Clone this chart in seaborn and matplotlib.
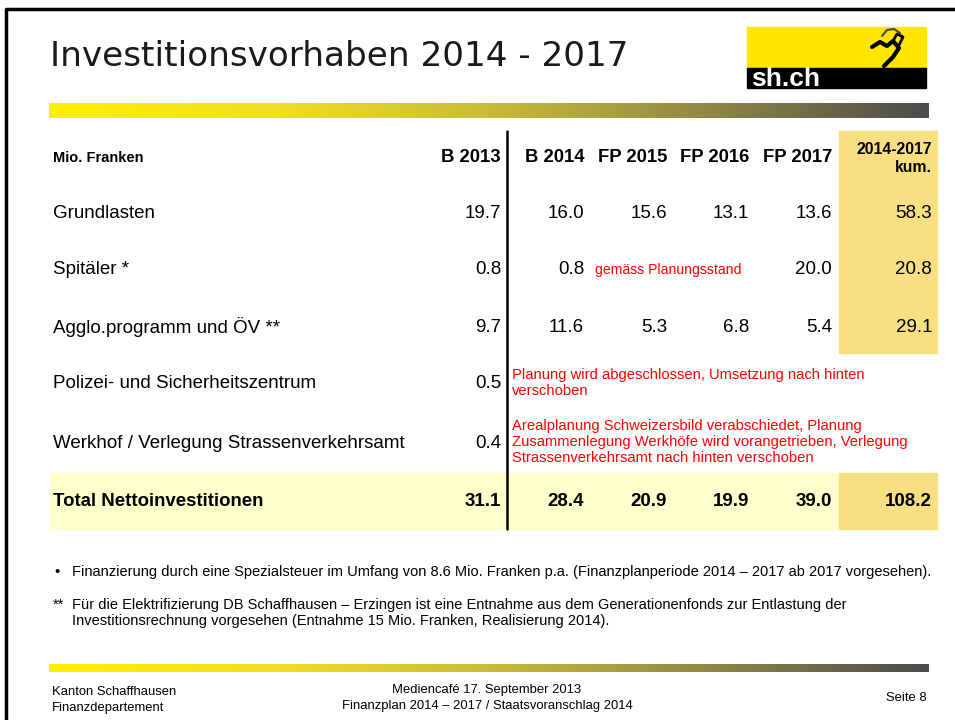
import numpy as np
import matplotlib.pyplot as plt
import matplotlib.patches as mpatches
import seaborn as sns

# table data (Mio. Franken)
title = "Investitionsvorhaben 2014 - 2017"
col_labels = ["B 2013", "B 2014", "FP 2015", "FP 2016", "FP 2017", "2014-2017\nkum."]
row_labels = ["Grundlasten", "Spitäler *", "Agglo.programm und ÖV **",
              "Polizei- und Sicherheitszentrum", "Werkhof / Verlegung Strassenverkehrsamt"]
b2013 = [19.7, 0.8, 9.7, 0.5, 0.4]
b2014 = [16.0, 0.8, 11.6, None, None]
fp2015 = [15.6, None, 5.3, None, None]
fp2016 = [13.1, None, 6.8, None, None]
fp2017 = [13.6, 20.0, 5.4, None, None]
kum = [58.3, 20.8, 29.1, None, None]
total_label = "Total Nettoinvestitionen"
total = [31.1, 28.4, 20.9, 19.9, 39.0, 108.2]
notes = ["gemäss Planungsstand",
         "Planung wird abgeschlossen, Umsetzung nach hinten\nverschoben",
         "Arealplanung Schweizersbild verabschiedet, Planung\nZusammenlegung Werkhöfe wird vorangetrieben, Verlegung\nStrassenverkehrsamt nach hinten verschoben"]
footnote1 = "Finanzierung durch eine Spezialsteuer im Umfang von 8.6 Mio. Franken p.a. (Finanzplanperiode 2014 – 2017 ab 2017 vorgesehen)."
footnote2 = "Für die Elektrifizierung DB Schaffhausen – Erzingen ist eine Entnahme aus dem Generationenfonds zur Entlastung der\nInvestitionsrechnung vorgesehen (Entnahme 15 Mio. Franken, Realisierung 2014)."
footer_left = "Kanton Schaffhausen\nFinanzdepartement"
footer_mid = "Mediencafé 17. September 2013\nFinanzplan 2014 – 2017 / Staatsvoranschlag 2014"
footer_right = "Seite 8"

sns.set_theme(style="white")
plt.rcParams['font.family'] = ['Liberation Sans', 'DejaVu Sans']
plt.rcParams['text.color'] = 'black'

fig = plt.figure(figsize=(9.55, 7.2), dpi=100)
ax = fig.add_axes([0, 0, 1, 1])
ax.set_xlim(0, 955)
ax.set_ylim(720, 0)
ax.axis('off')

# slide border
ax.plot([6, 6, 955], [720, 9, 9], color='black', lw=2.5, solid_capstyle='butt')

# gradient bars
grad = sns.blend_palette(["#FFF000", "#F2DE22", "#C9BC38", "#8F8845", "#4B4B4B"], as_cmap=True)
g = np.linspace(0, 1, 256).reshape(1, -1)
ax.imshow(g, cmap=grad, extent=[49, 928, 118, 103], aspect='auto', zorder=1)
ax.imshow(g, cmap=grad, extent=[49, 928, 672, 664], aspect='auto', zorder=1)

# title
ax.text(50, 56, title, fontsize=24.7, color='#1a1a1a', va='center', ha='left', family='DejaVu Sans')

# logo
ax.add_patch(mpatches.Rectangle((747, 27), 179, 42, color='#FFE500', zorder=2))
ax.add_patch(mpatches.Rectangle((747, 68), 179, 20, color='black', zorder=2))
ax.text(751, 79, "sh.ch", color='white', fontsize=19, fontweight='bold', va='center', zorder=3)
ax.plot([872, 880, 887, 893, 899, 893, 884], [47, 42, 46, 41, 48, 57, 66], color='black', lw=3, zorder=3)
ax.plot([893, 897, 903, 899], [41, 34, 37, 45], color='black', lw=2, zorder=3)
ax.plot([882, 887, 894, 900], [36, 30, 29, 33], color='#444444', lw=1.5, zorder=3)

# table backgrounds
ax.add_patch(mpatches.Rectangle((50, 473), 887, 56, color='#FFFFCC', zorder=1))
ax.add_patch(mpatches.Rectangle((839, 131), 98, 222, color='#F7DF82', zorder=1))
ax.add_patch(mpatches.Rectangle((839, 473), 98, 56, color='#F7DF82', zorder=1))
ax.plot([507, 507], [131, 529], color='black', lw=1.8, zorder=3)

col_x = [501, 584, 667, 749, 832, 932]
row_y = [213, 270, 327, 383, 443]
fs = 13.5

# header
ax.text(53, 158, "Mio. Franken", fontsize=10.5, fontweight='bold', va='center')
for x, lab in zip(col_x, col_labels):
    if "\n" in lab:
        ax.text(x, 158, lab, fontsize=11.3, fontweight='bold', ha='right', va='center', linespacing=1.25)
    else:
        ax.text(x, 158, lab, fontsize=13.3, fontweight='bold', ha='right', va='center')

# body rows
series = [b2013, b2014, fp2015, fp2016, fp2017, kum]
for i, (lab, y) in enumerate(zip(row_labels, row_y)):
    ax.text(53, y, lab, fontsize=fs, va='center')
    for x, s in zip(col_x, series):
        if s[i] is not None:
            ax.text(x, y, f"{s[i]:.1f}", fontsize=fs, ha='right', va='center')

# red notes
ax.text(595, row_y[1], notes[0], fontsize=10.1, color='#FF0000', va='center')
ax.text(512, 383, notes[1], fontsize=10.6, color='#FF0000', va='center', linespacing=1.2)
ax.text(512, 442, notes[2], fontsize=10.6, color='#FF0000', va='center', linespacing=1.2)

# total row
ax.text(53, 501, total_label, fontsize=13.4, fontweight='bold', va='center')
for x, v in zip(col_x, total):
    ax.text(x, 501, f"{v:.1f}", fontsize=fs, fontweight='bold', ha='right', va='center')

# footnotes
ax.text(54, 572, "•", fontsize=10.5, va='center')
ax.text(72, 572, footnote1, fontsize=10.5, va='center')
ax.text(53, 605, "**", fontsize=10.5, va='center')
ax.text(72, 613, footnote2, fontsize=10.5, va='center', linespacing=1.25)

# footer
ax.text(52, 700, footer_left, fontsize=9.4, va='center', linespacing=1.45)
ax.text(487, 698, footer_mid, fontsize=9.4, va='center', ha='center', linespacing=1.45)
ax.text(927, 698, footer_right, fontsize=9.4, va='center', ha='right')

fig.savefig("out.png", dpi=100)
